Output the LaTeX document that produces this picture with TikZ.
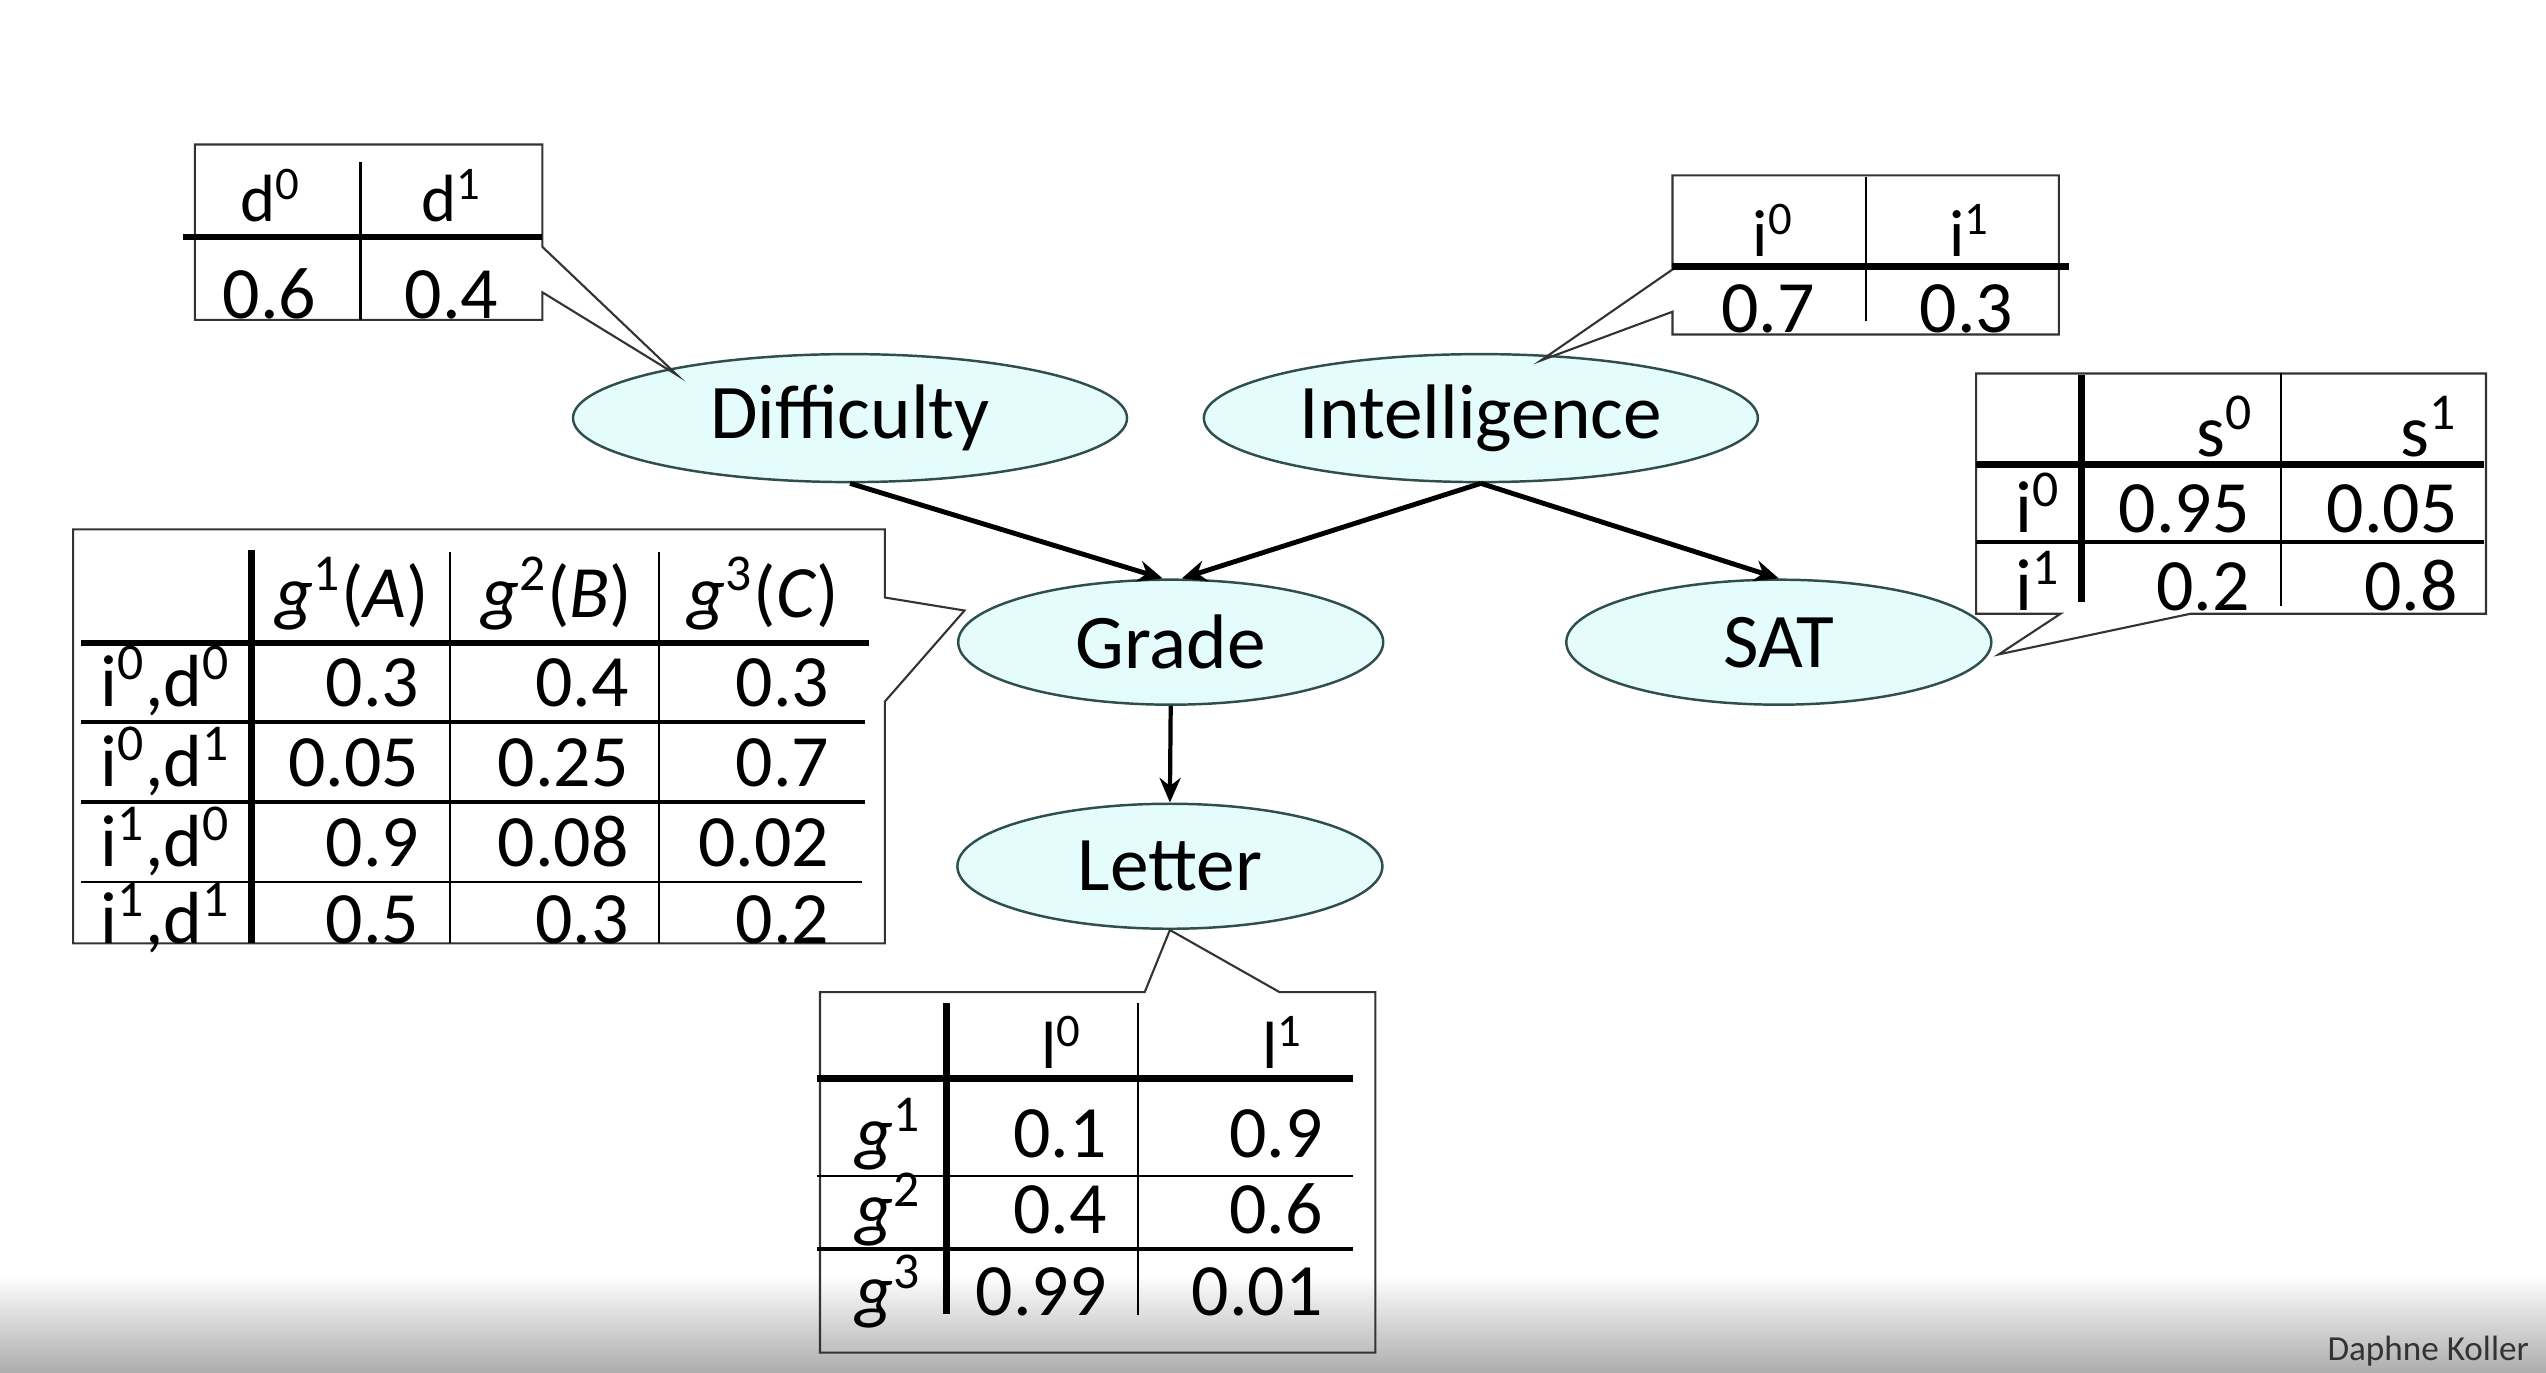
\documentclass[tikz,border=0pt]{standalone}
\usepackage{fontspec}
\setmainfont{Carlito}
\usetikzlibrary{shapes.geometric, arrows.meta}
\definecolor{nodefill}{HTML}{E4FCFC}
\definecolor{nodeedge}{HTML}{2F4F4F}
\definecolor{boxedge}{HTML}{333333}
\definecolor{signgray}{HTML}{333333}
\tikzset{
  varnode/.style={ellipse, draw=nodeedge, fill=nodefill, line width=0.7pt, inner sep=0pt,
                  font=\fontsize{22}{26}\selectfont, minimum width=42.5mm, minimum height=12.5mm},
  dep/.style={-{Stealth[length=7pt, width=6pt]}, line width=1.4pt},
  callout/.style={draw=boxedge, line width=0.6pt},
  rulethick/.style={line width=1.9pt},
  rulemid/.style={line width=1.2pt},
  rulethin/.style={line width=0.6pt},
  cellval/.style={font=\fontsize{21}{25}\selectfont, anchor=base east, inner sep=0pt},
  cellhdr/.style={font=\fontsize{21}{25}\selectfont, anchor=base, inner sep=0pt},
  cellsmall/.style={font=\fontsize{19}{23}\selectfont, anchor=base, inner sep=0pt},
}

\begin{document}
\begin{tikzpicture}[x=0.16237mm, y=-0.16237mm]
  \useasboundingbox (0,0) rectangle (1568,845);
  % --- fade at the bottom of the slide
  \shade[top color=white, bottom color=black!32] (0,785) rectangle (1568,845);

  % --- the network
  \node[varnode, minimum width=55.4mm, minimum height=12.8mm] (dif) at (523.5,257.5) {Difficulty};
  \node[varnode, minimum width=55.4mm, minimum height=12.8mm] (int) at (912,257.5) {Intelligence};
  \node[varnode] (grd) at (721,395.5) {Grade};
  \node[varnode] (sat) at (1095.5,395.5) {SAT};
  \node[varnode] (let) at (720.5,533.5) {Letter};

  \draw[dep] (dif.south) -- ([xshift=-0.8mm]grd.north);
  \draw[dep] (int.south) -- ([xshift=1.1mm]grd.north);
  \draw[dep] (int.south) -- (sat.north);
  \draw[dep, line width=1.2pt] (grd.south) -- (let.north);

  % --- tips of the callouts
  \coordinate (dtip) at (417,231);
  \coordinate (itip) at (949,222);
  \coordinate (stip) at (1231,403);
  \coordinate (gtip) at (594,376);
  \coordinate (ltip) at (let.south);

  % --- P(D)
  \draw[callout] (120,89) -- (334,89) -- (334,152) -- (dtip) -- (334,180) -- (334,197) -- (120,197) -- cycle;
  \draw[rulethick] (113,146) -- (334,146);
  \draw[rulethin] (222,100) -- (222,197);
  \node[cellsmall] (d0) at (167,136.5) {d\textsuperscript{0}};
  \node[cellsmall] (d1) at (278,136.5) {d\textsuperscript{1}};
  \node[cellhdr] (pd0) at (166,196) {0.6};
  \node[cellhdr] (pd1) at (278,196) {0.4};

  % --- P(I)
  \draw[callout] (1030,108) -- (1268,108) -- (1268,206) -- (1030,206) -- (1030,192) -- (itip) -- (1030,166) -- cycle;
  \draw[rulethick] (1030,164) -- (1274,164);
  \draw[rulethin] (1149,109) -- (1149,198);
  \node[cellsmall] (i0) at (1092,158) {i\textsuperscript{0}};
  \node[cellsmall] (i1) at (1213,158) {i\textsuperscript{1}};
  \node[cellhdr] (pi0) at (1089,205) {0.7};
  \node[cellhdr] (pi1) at (1211,205) {0.3};

  % --- P(S | I)
  \draw[callout] (1217,230) -- (1531,230) -- (1531,378) -- (1349,378) -- (stip) -- (1269,378) -- (1217,378) -- cycle;
  \draw[rulethick] (1217,286) -- (1530,286);
  \draw[rulemid] (1217,334) -- (1530,334);
  \draw[rulethick] (1282,231) -- (1282,371);
  \draw[rulethin] (1405,230) -- (1405,373);
  \node[cellval] (s0) at (1388,281) {s\textsuperscript{0}};
  \node[cellval] (s1) at (1514,281) {s\textsuperscript{1}};
  \node[cellhdr] (si0) at (1255,328) {i\textsuperscript{0}};
  \node[cellhdr] (si1) at (1255,376) {i\textsuperscript{1}};
  \node[cellval] (s00) at (1386,328) {0.95};
  \node[cellval] (s01) at (1514,328) {0.05};
  \node[cellval] (s10) at (1386,376) {0.2};
  \node[cellval] (s11) at (1514,376) {0.8};

  % --- P(G | I,D)
  \draw[callout] (45,326) -- (545,326) -- (545,368) -- (gtip) -- (545,432) -- (545,581) -- (45,581) -- cycle;
  \draw[rulethick] (50,396) -- (535,396);
  \draw[rulemid] (50,444.5) -- (533,444.5);
  \draw[rulemid] (50,493.7) -- (533,493.7);
  \draw[rulethin] (50,543) -- (531,543);
  \draw[rulethick] (155,339) -- (155,581);
  \foreach \x in {277,406}{ \draw[rulethin] (\x,340) -- (\x,581); }
  \node[cellhdr] (gh1) at (217,380) {\textit{g}\textsuperscript{1}(\textit{A})};
  \node[cellhdr] (gh2) at (343,380) {\textit{g}\textsuperscript{2}(\textit{B})};
  \node[cellhdr] (gh3) at (470,380) {\textit{g}\textsuperscript{3}(\textit{C})};
  \foreach \r/\y/\i/\d in {1/435/0/0, 2/484.5/0/1, 3/533.8/1/0, 4/581/1/1}{
    \node[cellhdr] (gr\r) at (102,\y) {i\textsuperscript{\i},d\textsuperscript{\d}};
  }
  \foreach \r/\y/\a/\b/\c in {1/435/0.3/0.4/0.3, 2/484.5/0.05/0.25/0.7, 3/533.8/0.9/0.08/0.02, 4/581/0.5/0.3/0.2}{
    \node[cellval] (gva\r) at (258.5,\y) {\a};
    \node[cellval] (gvb\r) at (387.7,\y) {\b};
    \node[cellval] (gvc\r) at (511,\y) {\c};
  }

  % --- P(L | G)
  \draw[callout] (505,611) -- (705,611) -- (ltip) -- (788,611) -- (847,611) -- (847,833) -- (505,833) -- cycle;
  \draw[rulethick] (503,664) -- (833,664);
  \draw[rulethin] (503,724) -- (833,724);
  \draw[rulemid] (503,769) -- (833,769);
  \draw[rulethick] (583,618) -- (583,809);
  \draw[rulethin] (701,618) -- (701,810);
  \node[cellsmall] (l0) at (654,658) {l\textsuperscript{0}};
  \node[cellsmall] (l1) at (790,658) {l\textsuperscript{1}};
  \foreach \r/\y/\a/\b in {1/713/0.1/0.9, 2/759.6/0.4/0.6, 3/810/0.99/0.01}{
    \node[cellval] (lg\r) at (568,\y) {\textit{g}\textsuperscript{\r}};
    \node[cellval] (lva\r) at (682,\y) {\a};
    \node[cellval] (lvb\r) at (815,\y) {\b};
  }

  \node[font=\fontsize{10}{12}\selectfont, text=signgray, anchor=base west, inner sep=0pt] (sign) at (1433,838) {Daphne Koller};
\end{tikzpicture}
\end{document}
